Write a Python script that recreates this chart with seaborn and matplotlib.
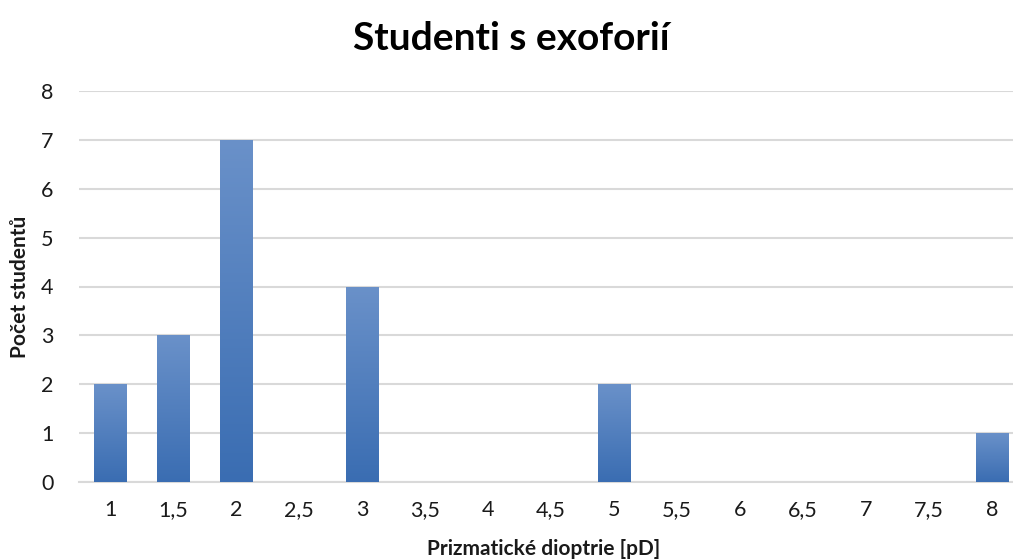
import numpy as np
import pandas as pd
import matplotlib
matplotlib.use("Agg")
import matplotlib.pyplot as plt
import seaborn as sns
from matplotlib.colors import LinearSegmentedColormap

# Prism dioptre classes and number of students in each
categories = ["1", "1,5", "2", "2,5", "3", "3,5", "4", "4,5", "5", "5,5", "6", "6,5", "7", "7,5", "8"]
counts = [2, 3, 7, 0, 4, 0, 0, 0, 2, 0, 0, 0, 0, 0, 1]

title = "Studenti s exoforií"
xlabel = "Prizmatické dioptrie [pD]"
ylabel = "Počet studentů"

sns.set_theme(style="white")
plt.rcParams["font.family"] = ["Lato", "DejaVu Sans"]

W, H = 1013, 560
fig = plt.figure(figsize=(W / 100, H / 100), dpi=100)
ax = fig.add_axes([78.5 / W, 78 / H, 945 / W, 391 / H])

df = pd.DataFrame({"cat": categories, "n": counts})
sns.barplot(data=df, x="cat", y="n", ax=ax, width=0.51, color="#4a7ebf",
            saturation=1, linewidth=0, zorder=3)

ax.set_ylim(0, 8)
ax.set_yticks(range(0, 9))
ax.yaxis.grid(True, color="#d9d9d9", linewidth=1.5, zorder=0)
ax.set_axisbelow(True)
for s in ["top", "right", "left"]:
    ax.spines[s].set_visible(False)
ax.spines["bottom"].set_color("#d9d9d9")
ax.spines["bottom"].set_linewidth(1.5)
ax.tick_params(axis="both", length=0, labelsize=15.5, colors="#1a1a1a")
ax.tick_params(axis="x", pad=13)
ax.tick_params(axis="y", pad=18)
ax.set_xlabel("")
ax.set_ylabel("")

# vertical gradient fill for each bar (lighter at top, darker at bottom)
cmap = LinearSegmentedColormap.from_list("bar", ["#3a6db2", "#6a91c9"])
grad = np.linspace(0, 1, 256).reshape(-1, 1)
for p in list(ax.patches):
    h = p.get_height()
    if h <= 0:
        continue
    x0, w = p.get_x(), p.get_width()
    im = ax.imshow(grad, cmap=cmap, aspect="auto", origin="lower",
                   extent=[x0, x0 + w, 0, h], zorder=4)
    im.set_clip_path(p)
    p.set_facecolor("none")
    p.set_edgecolor("none")
ax.set_xlim(-0.5, len(categories) - 0.5)
ax.set_ylim(0, 8)

fig.text(511 / W, 1 - 38 / H, title, ha="center", va="center",
         fontsize=28, fontweight="bold", color="black")
fig.text(544 / W, 1 - 549 / H, xlabel, ha="center", va="center",
         fontsize=15, fontweight="bold", color="#1a1a1a")
fig.text(20 / W, 1 - 287 / H, ylabel, ha="center", va="center", rotation=90,
         fontsize=15, fontweight="bold", color="#1a1a1a")

fig.savefig("out.png", dpi=100)
